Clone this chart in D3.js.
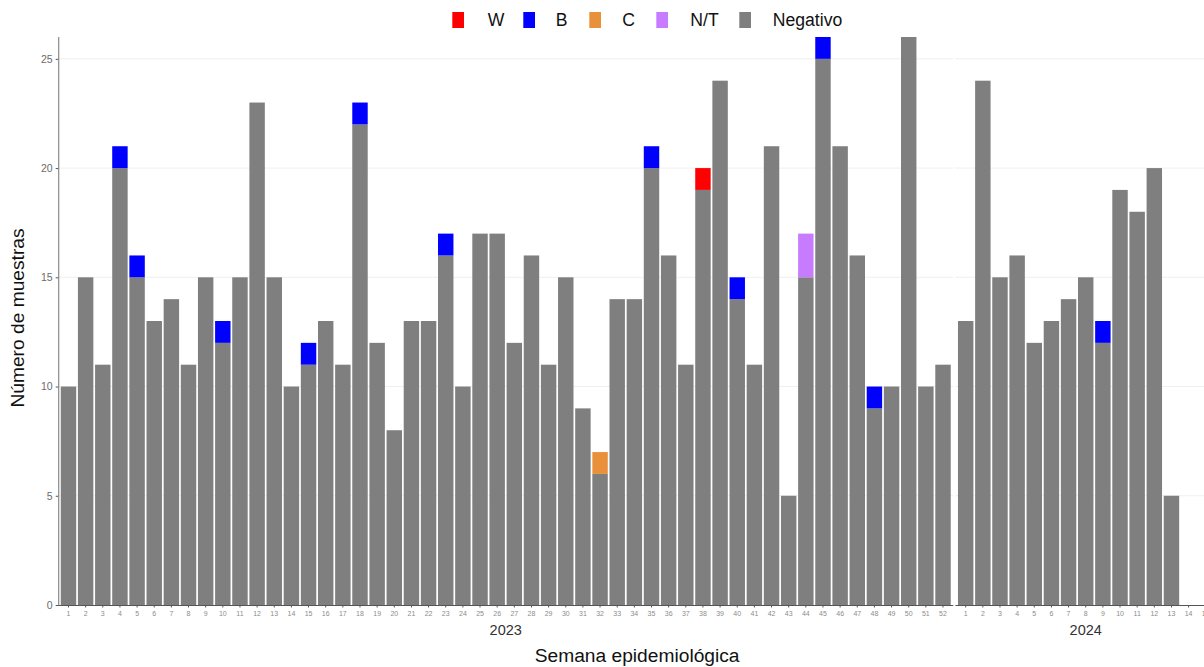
<!DOCTYPE html>
<html>
<head>
<meta charset="utf-8">
<script src="https://cdn.jsdelivr.net/npm/d3@7"></script>
<style>
  html, body { margin: 0; padding: 0; background: #fff; overflow: hidden; }
  svg { display: block; font-family: "Liberation Sans", Arial, sans-serif; }
</style>
</head>
<body>
<svg id="chart" width="1204" height="667"></svg>
<script>
// ---- Data ----
const years = ["2023", "2024"];
const weeks2023 = d3.range(1, 53);
const weeks2024 = d3.range(1, 16);
const categories = ["W", "B", "C", "N/T", "Negativo"];
const colors = ["#FF0000", "#0000FF", "#E8903A", "#C77CFF", "#7F7F7F"];

// counts per week (2023)
const neg2023 = [10,15,11,20,15,13,14,11,15,12,15,23,15,10,11,13,11,22,12,8,13,13,16,10,17,17,12,16,11,15,9,6,14,14,20,16,11,19,24,14,11,21,5,15,25,21,16,9,10,26,10,11];
const W2023   = [0,0,0,0,0,0,0,0,0,0,0,0,0,0,0,0,0,0,0,0,0,0,0,0,0,0,0,0,0,0,0,0,0,0,0,0,0,1,0,0,0,0,0,0,0,0,0,0,0,0,0,0];
const B2023   = [0,0,0,1,1,0,0,0,0,1,0,0,0,0,1,0,0,1,0,0,0,0,1,0,0,0,0,0,0,0,0,0,0,0,1,0,0,0,0,1,0,0,0,0,1,0,0,1,0,0,0,0];
const C2023   = [0,0,0,0,0,0,0,0,0,0,0,0,0,0,0,0,0,0,0,0,0,0,0,0,0,0,0,0,0,0,0,1,0,0,0,0,0,0,0,0,0,0,0,0,0,0,0,0,0,0,0,0];
const NT2023  = [0,0,0,0,0,0,0,0,0,0,0,0,0,0,0,0,0,0,0,0,0,0,0,0,0,0,0,0,0,0,0,0,0,0,0,0,0,0,0,0,0,0,0,2,0,0,0,0,0,0,0,0];
// counts per week (2024)
const neg2024 = [13,24,15,16,12,13,14,15,12,19,18,20,5,0,0];
const W2024   = [0,0,0,0,0,0,0,0,0,0,0,0,0,0,0];
const B2024   = [0,0,0,0,0,0,0,0,1,0,0,0,0,0,0];
const C2024   = [0,0,0,0,0,0,0,0,0,0,0,0,0,0,0];
const NT2024  = [0,0,0,0,0,0,0,0,0,0,0,0,0,0,0];
const yTicks = [0, 5, 10, 15, 20, 25];

// ---- Build tables ----
function buildRows(weeks, neg, W, B, C, NT) {
  return weeks.map((w, i) => ({ week: String(w), "Negativo": neg[i], "W": W[i], "B": B[i], "C": C[i], "N/T": NT[i] }));
}
const panels = [
  { year: years[0], weeks: weeks2023, rows: buildRows(weeks2023, neg2023, W2023, B2023, C2023, NT2023) },
  { year: years[1], weeks: weeks2024, rows: buildRows(weeks2024, neg2024, W2024, B2024, C2024, NT2024) }
];
const stackOrder = ["Negativo", "N/T", "C", "B", "W"];
const color = d3.scaleOrdinal().domain(categories).range(colors);

// ---- Layout ----
const svg = d3.select("#chart");
const pTop = 37, pBottom = 605;
const pLeft = 58.2, panel1Right = 953.3, gap = 2.1;
const y = d3.scaleLinear().domain([0, 26]).range([pBottom, pTop]);

const step = (panel1Right - pLeft) / (weeks2023.length + 0.2);
let x0 = pLeft;
panels.forEach(p => {
  const w = step * (p.weeks.length + 0.2);
  p.x = d3.scaleBand().domain(p.weeks.map(String)).range([x0, x0 + w]).paddingInner(0.1).paddingOuter(0.15);
  p.left = x0; p.right = x0 + w;
  x0 = x0 + w + gap;
});

// gridlines
panels.forEach(p => {
  svg.append("g").selectAll("line").data(yTicks.filter(t => t > 0)).join("line")
    .attr("x1", p.left).attr("x2", p.right)
    .attr("y1", d => y(d)).attr("y2", d => y(d))
    .attr("stroke", "#EFEFEF").attr("stroke-width", 1);
});

// bars
panels.forEach(p => {
  const series = d3.stack().keys(stackOrder)(p.rows);
  const g = svg.append("g");
  series.forEach(s => {
    g.append("g").attr("fill", color(s.key)).selectAll("rect")
      .data(s.filter(d => d[1] - d[0] > 0)).join("rect")
      .attr("x", d => p.x(d.data.week))
      .attr("width", p.x.bandwidth())
      .attr("y", d => y(d[1]))
      .attr("height", d => y(d[0]) - y(d[1]));
  });
});

// x axes
panels.forEach(p => {
  const ax = d3.axisBottom(p.x).tickSize(2.5).tickPadding(4);
  const g = svg.append("g").attr("transform", `translate(0,${pBottom})`).call(ax);
  g.select(".domain").attr("stroke", "#555").attr("stroke-width", 1)
    .attr("d", `M${p.left},0.5H${p.right}`);
  g.selectAll(".tick line").attr("stroke", "#555");
  g.selectAll(".tick text").attr("fill", "#8C8C8C").attr("font-size", 7)
    .attr("font-family", "Liberation Sans, Arial, sans-serif");
  svg.append("text").attr("x", (p.left + p.right) / 2).attr("y", 635)
    .attr("text-anchor", "middle").attr("font-size", 14.5).attr("fill", "#333")
    .text(p.year);
});

// y axis
const yAx = d3.axisLeft(y).tickValues(yTicks).tickSize(2.5).tickPadding(3);
const gy = svg.append("g").attr("transform", `translate(${pLeft},0)`).call(yAx);
gy.select(".domain").attr("stroke", "#8A8A8A").attr("stroke-width", 1.2).attr("d", `M0.5,${pBottom}V${pTop}`);
gy.selectAll(".tick line").attr("stroke", "#555");
gy.selectAll(".tick text").attr("fill", "#6B6B6B").attr("font-size", 10.5)
  .attr("font-family", "Liberation Sans, Arial, sans-serif");

// axis titles
svg.append("text").attr("x", (pLeft + panels[1].right) / 2).attr("y", 661.5)
  .attr("text-anchor", "middle").attr("font-size", 19.2).attr("fill", "#111")
  .text("Semana epidemiológica");
svg.append("text").attr("transform", `translate(24,318) rotate(-90)`)
  .attr("text-anchor", "middle").attr("font-size", 19.2).attr("fill", "#111")
  .text("Número de muestras");

// legend
const legendX = [452.3, 523.3, 589.3, 656.3, 739.3];
const lg = svg.append("g").selectAll("g").data(categories).join("g")
  .attr("transform", (d, i) => `translate(${legendX[i]},12)`);
lg.append("rect").attr("width", 11.7).attr("height", 16).attr("fill", d => color(d));
lg.append("text").attr("x", (d, i) => [35.5, 32.5, 33, 34, 33.5][i]).attr("y", 14.2)
  .attr("font-size", 17.6).attr("fill", "#111").text(d => d);
</script>
</body>
</html>
